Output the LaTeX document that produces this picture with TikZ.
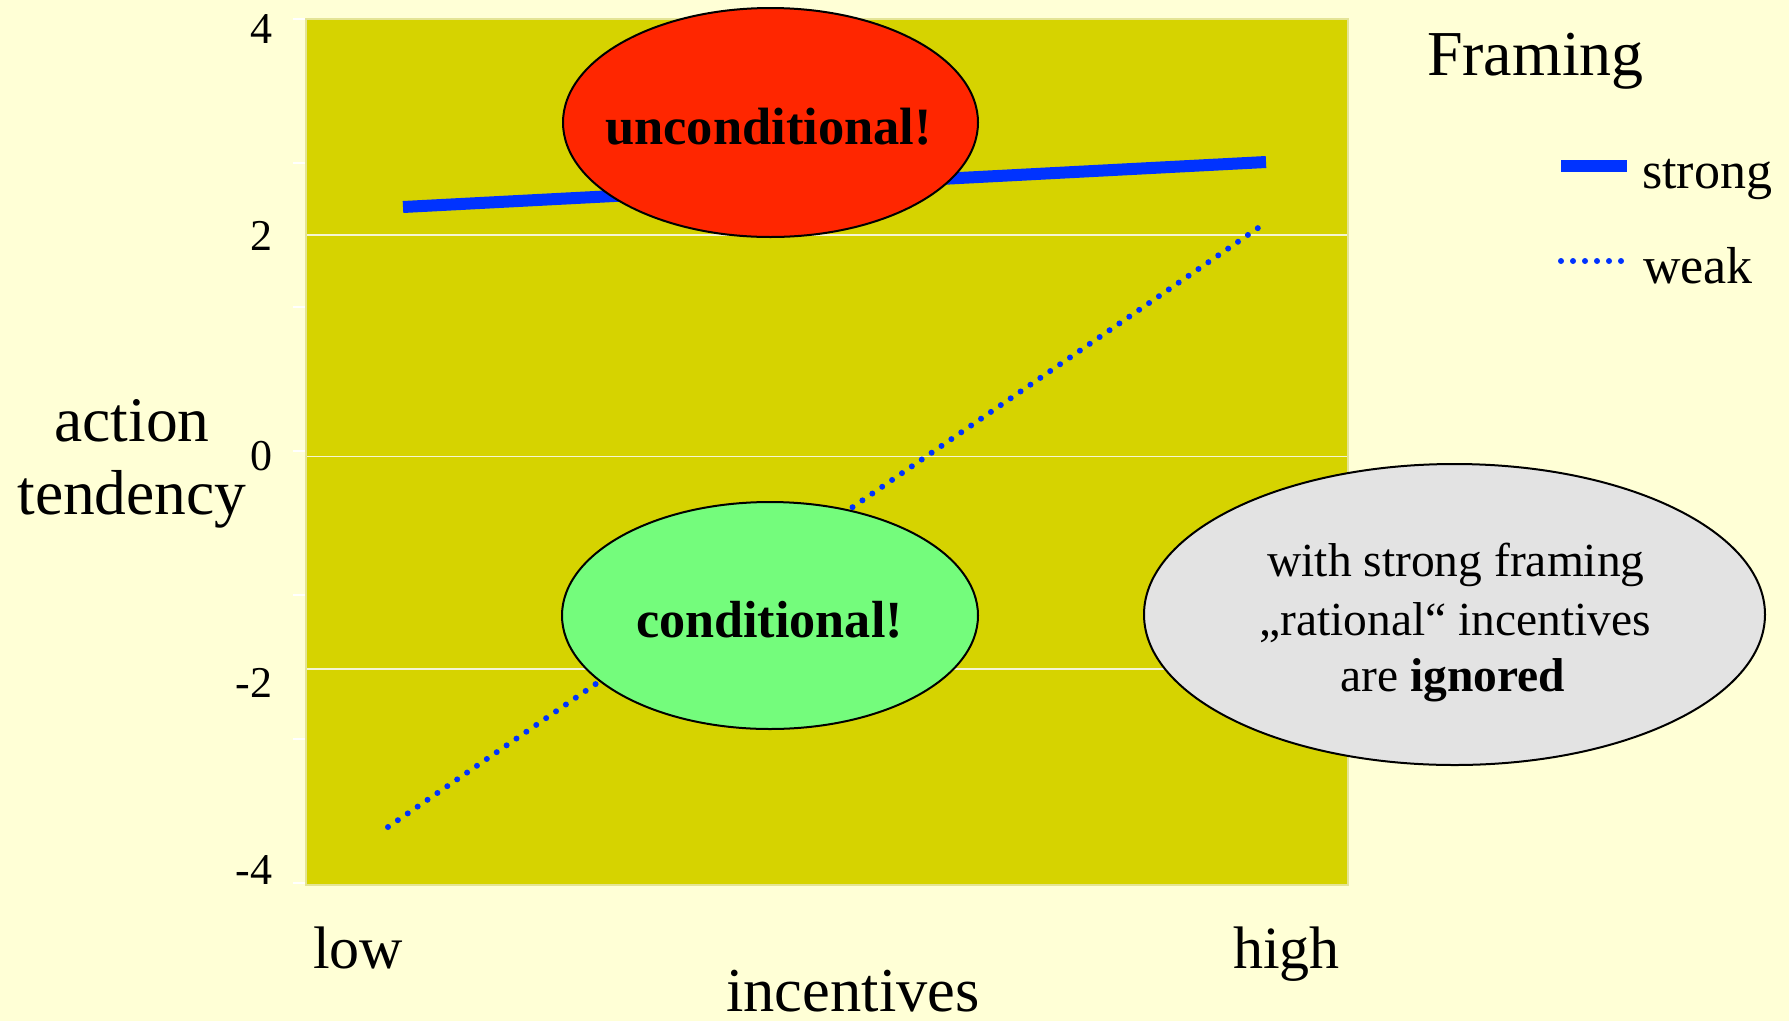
\documentclass[tikz,border=0pt]{standalone}
\usepackage{fontspec}
\setmainfont{Liberation Serif}
\usetikzlibrary{shapes.geometric}
\definecolor{bgcol}{RGB}{255,255,214}
\definecolor{plotfill}{RGB}{214,211,0}
\definecolor{plotedge}{RGB}{228,228,150}
\definecolor{gridcol}{RGB}{245,245,210}
\definecolor{lineblue}{RGB}{0,51,255}
\definecolor{redfill}{RGB}{255,38,0}
\definecolor{greenfill}{RGB}{116,252,124}
\definecolor{grayfill}{RGB}{227,227,227}
\tikzset{
  txt/.style={inner sep=0pt, outer sep=0pt, text=black},
  bubble/.style={ellipse, draw=black, line width=2pt, inner sep=0pt},
  strongline/.style={lineblue, line width=12pt, line cap=butt},
  weakline/.style={lineblue, line width=6pt, line cap=round, dash pattern=on 0pt off 12pt},
  gridline/.style={gridcol, line width=1.5pt},
  tickmark/.style={white, line width=1.5pt},
  tickfont/.style={font=\fontsize{44}{50}\selectfont},
  axisfont/.style={font=\fontsize{63.5}{70}\selectfont},
  notefont/.style={font=\fontsize{47.5}{55}\selectfont},
  legfont/.style={font=\fontsize{52}{58}\selectfont},
}
\begin{document}
\begin{tikzpicture}[x=1pt,y=-1pt]
\useasboundingbox (0,0) rectangle (1789,1021);
\fill[bgcol] (0,0) rectangle (1789,1021);
% plot area
\fill[plotfill] (306,19) rectangle (1348,885);
\foreach \yy in {235,456.5,669} \draw[gridline] (306,\yy) -- (1348,\yy);
\draw[plotedge, line width=2pt] (306,19) rectangle (1348,885);
\foreach \yy in {19,163,307,451,595,739,883} \draw[tickmark] (293,\yy) -- (305,\yy);
% tick labels
\node[txt, tickfont, anchor=base east] (t4) at (272,43) {4};
\node[txt, tickfont, anchor=base east] (t2) at (272,250) {2};
\node[txt, tickfont, anchor=base east] (t0) at (272,470) {0};
\node[txt, tickfont, anchor=base east] (tm2) at (272,697) {-2};
\node[txt, tickfont, anchor=base east] (tm4) at (272,884) {-4};
% axis titles
\node[txt, axisfont, anchor=base] (ylab1) at (132,441) {action};
\node[txt, axisfont, anchor=base] (ylab2) at (132,514) {tendency};
\node[txt, anchor=base west, font=\fontsize{60}{66}\selectfont] (xlow) at (313,968) {low};
\node[txt, anchor=base west, font=\fontsize{60}{66}\selectfont] (xhigh) at (1233,968) {high};
\node[txt, anchor=base, font=\fontsize{62.5}{68}\selectfont] (xlab) at (853,1011) {incentives};
% data lines
\coordinate (s1) at (403,207);
\coordinate (s2) at (1266,162);
\draw[strongline] (s1) -- (s2);
\coordinate (w1) at (388,827);
\coordinate (w2) at (1258,228);
\draw[weakline] (w1) -- (w2);
% bubbles
\node[bubble, fill=redfill, minimum width=415pt, minimum height=229pt] (uncond) at (770.5,122.5) {};
\node[txt, anchor=base, font=\bfseries\fontsize{52.5}{58}\selectfont] (uncondtxt) at (768.5,144) {unconditional!};
\node[bubble, fill=greenfill, minimum width=416pt, minimum height=227pt] (cond) at (770,615.5) {};
\node[txt, anchor=base, font=\bfseries\fontsize{52.2}{58}\selectfont] (condtxt) at (769.5,637) {conditional!};
\node[bubble, fill=grayfill, minimum width=621pt, minimum height=301pt] (note) at (1454.5,614.5) {};
\node[txt, notefont, anchor=base] (note1) at (1456,576.7) {with strong framing};
\node[txt, notefont, anchor=base] (note2) at (1455,635) {„rational“ incentives};
\node[txt, notefont, anchor=base] (note3) at (1453,691.7) {are \textbf{ignored}};
% legend
\node[txt, anchor=base west, font=\fontsize{64}{70}\selectfont] (legtitle) at (1427,75) {Framing};
\coordinate (ls1) at (1561,166);
\coordinate (ls2) at (1627,166);
\draw[strongline] (ls1) -- (ls2);
\node[txt, legfont, anchor=base west] (legstrong) at (1642,188) {strong};
\coordinate (lw1) at (1561,261);
\coordinate (lw2) at (1622,261);
\draw[weakline] (lw1) -- (lw2);
\node[txt, legfont, anchor=base west] (legweak) at (1643,283) {weak};
\end{tikzpicture}
\end{document}
